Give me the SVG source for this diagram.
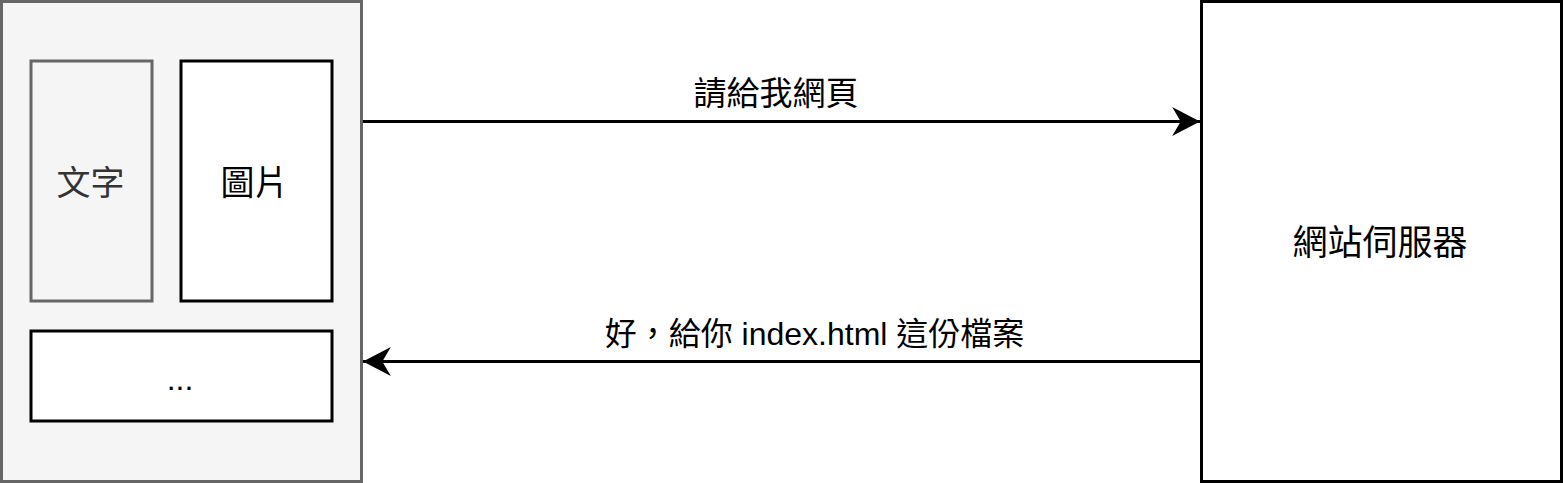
<svg xmlns="http://www.w3.org/2000/svg" width="1563" height="483" viewBox="0 0 1563 483">
<style>
.t{font-family:"Liberation Sans","Noto Sans CJK TC",sans-serif;text-anchor:middle;fill:#000}
.box{fill:#fff;stroke:#000;stroke-width:3}
.gbox{fill:#f5f5f5;stroke:#666;stroke-width:3}
.edge{fill:none;stroke:#000;stroke-width:3}
</style>
<defs>
<marker id="arr" markerUnits="userSpaceOnUse" markerWidth="30" markerHeight="30" viewBox="0 0 26 28" refX="26" refY="14" orient="auto">
<path d="M26,14 L0,0.5 L8,14 L0,27.5 Z" fill="#000"/>
</marker>
</defs>
<rect width="1563" height="483" fill="#fff"/>
<g id="browser">
<rect class="gbox" x="1.5" y="1.5" width="360" height="480"/>
</g>
<g id="text-block">
<rect class="gbox" x="31" y="61" width="121" height="240"/>
<text class="t" x="90.5" y="195" font-size="34" style="fill:#333">文字</text>
</g>
<g id="image-block">
<rect class="box" x="181" y="61" width="151" height="240"/>
<text class="t" x="254.5" y="195" font-size="34">圖片</text>
</g>
<g id="more-block">
<rect class="box" x="31" y="331" width="301" height="90"/>
<text class="t" x="180" y="390" font-size="32">...</text>
</g>
<g id="server">
<rect class="box" x="1201.5" y="1.5" width="360" height="480"/>
<text class="t" x="1380" y="255" font-size="35">網站伺服器</text>
</g>
<g id="connectors">
<path class="edge" d="M363,121.5 H1200" marker-end="url(#arr)"/>
<text class="t" x="776" y="105" font-size="33">請給我網頁</text>
<path class="edge" d="M1200,361.5 H363" marker-end="url(#arr)"/>
<text class="t" x="814.5" y="345" font-size="32">好，給你 index.html 這份檔案</text>
</g>
</svg>
